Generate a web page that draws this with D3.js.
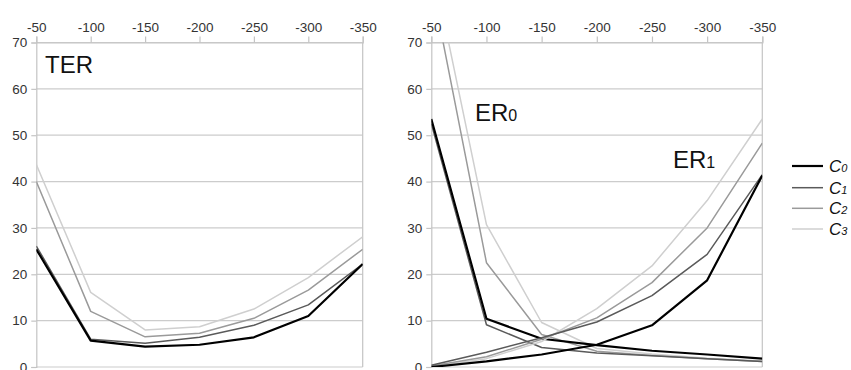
<!DOCTYPE html>
<html><head><meta charset="utf-8">
<script src="https://cdn.jsdelivr.net/npm/d3@7"></script>
<style>body{margin:0;background:#fff}svg{display:block;font-family:"Liberation Sans",Arial,sans-serif}</style>
</head><body><svg id="c" width="851" height="370"></svg>
<script>
const xValues = [-50, -100, -150, -200, -250, -300, -350];
const yTicks = [0, 10, 20, 30, 40, 50, 60, 70];
const seriesNames = ["C0", "C1", "C2", "C3"];
const seriesColors = ["#000000", "#5a5a5a", "#9a9a9a", "#cfcfcf"];
const seriesWidths = [2.2, 1.5, 1.5, 1.5];

const terC0 = [25.4, 5.7, 4.4, 4.8, 6.4, 11.0, 22.2];
const terC1 = [26.1, 6.0, 5.1, 6.4, 9.0, 13.4, 22.2];
const terC2 = [40.0, 12.0, 6.5, 7.3, 10.5, 16.6, 25.4];
const terC3 = [43.7, 16.1, 8.0, 8.7, 12.5, 19.3, 28.1];

const er0C0 = [53.5, 10.4, 6.1, 4.7, 3.5, 2.7, 1.8];
const er0C1 = [52.5, 9.1, 4.2, 3.0, 2.4, 1.8, 1.2];
const er0C2 = [83.0, 22.5, 7.0, 3.4, 2.5, 1.8, 1.2];
const er0C3 = [88.0, 30.7, 9.6, 4.0, 2.8, 1.9, 1.3];

const er1C0 = [0.0, 1.2, 2.7, 4.8, 9.0, 18.7, 41.3];
const er1C1 = [0.4, 3.2, 6.3, 9.7, 15.4, 24.3, 41.5];
const er1C2 = [0.2, 2.2, 6.0, 10.6, 18.2, 30.0, 48.3];
const er1C3 = [0.1, 1.8, 5.5, 12.6, 21.8, 35.9, 53.5];

const svg = d3.select("#c");

function panel(id, x0, x1, groups, labels) {
  const x = d3.scaleLinear().domain([-50, -350]).range([x0, x1]);
  const y = d3.scaleLinear().domain([0, 70]).range([367, 42.5]);
  const g = svg.append("g");
  g.append("clipPath").attr("id", id).append("rect")
    .attr("x", x0).attr("y", 42.5).attr("width", x1 - x0).attr("height", 367 - 42.5);
  g.selectAll(".grid").data(yTicks).enter().append("line")
    .attr("x1", x0).attr("x2", x1).attr("y1", d => y(d)).attr("y2", d => y(d))
    .attr("stroke", "#cccccc").attr("stroke-width", 1.2);
  g.append("line").attr("x1", x1).attr("x2", x1).attr("y1", y(70)).attr("y2", y(0))
    .attr("stroke", "#c4c4c4").attr("stroke-width", 1.2);
  const ax = g.append("g").attr("transform", `translate(0,${y(70)})`)
    .call(d3.axisTop(x).tickValues(xValues).tickSize(6).tickPadding(5).tickFormat(d => String(d)));
  ax.select(".domain").attr("stroke", "#c4c4c4").attr("stroke-width", 1.2);
  ax.selectAll(".tick line").attr("stroke", "#c4c4c4").attr("stroke-width", 1.2);
  ax.selectAll("text").attr("font-size", 13.5).attr("fill", "#333").attr("font-family", "Liberation Sans, Arial, sans-serif");
  const ay = g.append("g").attr("transform", `translate(${x0},0)`)
    .call(d3.axisLeft(y).tickValues(yTicks).tickSize(5).tickPadding(4).tickFormat(d => String(d)));
  ay.select(".domain").attr("stroke", "#c4c4c4").attr("stroke-width", 1.2);
  ay.selectAll(".tick line").attr("stroke", "#c4c4c4").attr("stroke-width", 1.2);
  ay.selectAll("text").attr("font-size", 13.5).attr("fill", "#333").attr("font-family", "Liberation Sans, Arial, sans-serif");
  const line = d3.line().x((d, i) => x(xValues[i])).y(d => y(d));
  const lg = g.append("g").attr("clip-path", `url(#${id})`);
  groups.forEach(group => {
    for (let k = group.length - 1; k >= 0; k--) {
      lg.append("path").datum(group[k]).attr("d", line).attr("fill", "none")
        .attr("stroke", seriesColors[k]).attr("stroke-width", seriesWidths[k])
        .attr("stroke-linejoin", "round");
    }
  });
  labels.forEach(l => {
    const t = g.append("text").attr("x", l.x).attr("y", l.y).attr("font-size", 24).attr("fill", "#111");
    t.append("tspan").text(l.main);
    if (l.sub) t.append("tspan").attr("font-size", 16).text(l.sub);
  });
}

panel("clipL", 36.3, 362.7, [[terC0, terC1, terC2, terC3]], [{x: 45, y: 73, main: "TER"}]);
panel("clipR", 431.3, 762.3, [[er0C0, er0C1, er0C2, er0C3], [er1C0, er1C1, er1C2, er1C3]],
  [{x: 475, y: 121, main: "ER", sub: "0"}, {x: 673, y: 168, main: "ER", sub: "1"}]);

const legY = [166, 187.7, 208.3, 229];
const leg = svg.append("g");
seriesNames.forEach((n, i) => {
  leg.append("line").attr("x1", 792).attr("x2", 823).attr("y1", legY[i]).attr("y2", legY[i])
    .attr("stroke", seriesColors[i]).attr("stroke-width", seriesWidths[i]);
  const t = leg.append("text").attr("x", 829).attr("y", legY[i] + 6).attr("font-size", 17)
    .attr("font-style", "italic").attr("fill", "#111");
  t.append("tspan").text(n[0]);
  t.append("tspan").attr("font-size", 11).text(n.slice(1));
});
</script></body></html>
